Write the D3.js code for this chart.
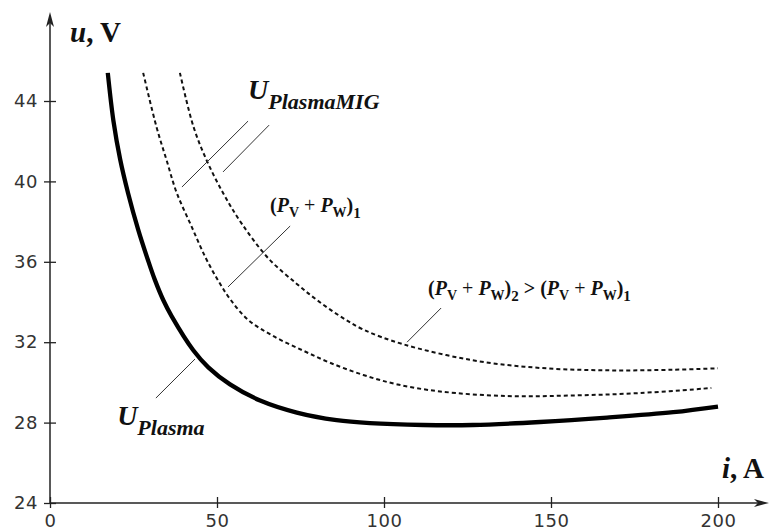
<!DOCTYPE html>
<html>
<head>
<meta charset="utf-8">
<script src="https://cdn.jsdelivr.net/npm/d3@7"></script>
<style>
  html, body { margin: 0; padding: 0; background: #fff; }
  svg { display: block; }
</style>
</head>
<body>
<script>
// ---- data (current i in A, voltage u in V) ----
const xTicks = [0, 50, 100, 150, 200];
const yTicks = [24, 28, 32, 36, 40, 44];

const uPlasma = [
  [17.3, 45.4], [19.0, 43.0], [21.0, 41.1], [23.4, 39.4], [26.4, 37.6], [29.3, 36.1],
  [31.4, 35.1], [33.9, 34.1], [36.4, 33.3], [42.9, 31.6], [47.4, 30.75], [53.9, 29.9],
  [62.9, 29.1], [73.9, 28.5], [85.8, 28.12], [95.8, 27.97], [111.7, 27.88],
  [126.6, 27.88], [146.7, 28.03], [166.8, 28.25], [186.6, 28.52], [200, 28.8]
];
const pw1 = [
  [27.9, 45.4], [31.9, 42.7], [34.9, 41.06], [37.9, 39.45], [42.4, 37.75], [46.6, 36.2],
  [50.4, 35.05], [53.9, 34.15], [59.4, 33.1], [66.9, 32.3], [75.8, 31.58], [83.8, 30.98],
  [93.8, 30.37], [104, 29.9], [116.8, 29.55], [136.8, 29.32], [156.6, 29.35],
  [176.6, 29.47], [198, 29.72]
];
const pw2 = [
  [38.9, 45.4], [42.9, 42.75], [46.9, 41.05], [51.9, 39.4], [57.4, 37.9], [65.5, 36.15],
  [73.9, 34.9], [79.9, 34.1], [86.8, 33.3], [93.8, 32.63], [105.7, 31.9], [126.6, 31.1],
  [146.7, 30.72], [166.8, 30.6], [186.6, 30.63], [200, 30.7]
];

// leader lines [i1,u1,i2,u2]
const leaders = [
  [59.3, 43.0, 39.5, 39.72],
  [65.6, 42.8, 51.8, 40.47],
  [71.9, 37.78, 53.3, 34.75],
  [117.1, 33.7, 106.9, 32.0],
  [43.4, 31.16, 31.7, 29.22]
];

// ---- layout ----
const W = 770, H = 531;
const svg = d3.select("body").append("svg").attr("width", W).attr("height", H);

const x = d3.scaleLinear().domain([0, 200]).range([50, 718]);
const y = d3.scaleLinear().domain([24, 44]).range([503, 101]);
const axisColor = "#222";

// axes
const gx = svg.append("g").attr("transform", `translate(0,${y(24)})`)
  .call(d3.axisBottom(x).tickValues(xTicks).tickSize(6).tickFormat(d3.format("d")));
const gy = svg.append("g").attr("transform", `translate(${x(0)},0)`)
  .call(d3.axisLeft(y).tickValues(yTicks).tickSize(6).tickFormat(d3.format("d")));

[gx, gy].forEach(g => {
  g.select(".domain").remove();
  g.selectAll(".tick line").attr("stroke", axisColor).attr("stroke-width", 1.3);
  g.selectAll(".tick text")
    .attr("fill", "#333")
    .style("font-family", "'DejaVu Sans', sans-serif")
    .style("font-size", "18px")
    .style("letter-spacing", "0.5px");
});
gx.selectAll(".tick line").attr("y1", -6).attr("y2", 5);
gx.selectAll(".tick text").attr("y", 11);
gy.selectAll(".tick line").attr("x1", -6).attr("x2", 6);
gy.selectAll(".tick text").attr("x", -12);

// axis lines with arrows
svg.append("line").attr("x1", x(0)).attr("y1", y(24)).attr("x2", x(0)).attr("y2", 16)
  .attr("stroke", axisColor).attr("stroke-width", 1.5);
svg.append("line").attr("x1", x(0)).attr("y1", y(24)).attr("x2", 764).attr("y2", y(24))
  .attr("stroke", axisColor).attr("stroke-width", 1.5);
svg.append("path")
  .attr("d", `M${x(0)},12 L${x(0) - 4},27 L${x(0)},23 L${x(0) + 4},27 Z`)
  .attr("fill", axisColor);
svg.append("path")
  .attr("d", `M769,${y(24)} L754,${y(24) - 4} L758,${y(24)} L754,${y(24) + 4} Z`)
  .attr("fill", axisColor);

// curves
const line = d3.line().x(d => x(d[0])).y(d => y(d[1])).curve(d3.curveCatmullRom.alpha(0.5));

svg.append("path").datum(pw2).attr("d", line)
  .attr("fill", "none").attr("stroke", "#111").attr("stroke-width", 2)
  .attr("stroke-dasharray", "4,3");
svg.append("path").datum(pw1).attr("d", line)
  .attr("fill", "none").attr("stroke", "#111").attr("stroke-width", 2)
  .attr("stroke-dasharray", "4,3");
svg.append("path").datum(uPlasma).attr("d", line)
  .attr("fill", "none").attr("stroke", "#000").attr("stroke-width", 4.3);

// leader lines
svg.selectAll(".leader").data(leaders).join("line")
  .attr("x1", d => x(d[0])).attr("y1", d => y(d[1]))
  .attr("x2", d => x(d[2])).attr("y2", d => y(d[3]))
  .attr("stroke", "#333").attr("stroke-width", 1);

// text labels
const serif = "'Liberation Serif', 'Times New Roman', serif";

function uLabel(xi, yu, sub) {
  const t = svg.append("text").attr("x", x(xi)).attr("y", y(yu))
    .style("font-family", serif).style("font-weight", "bold").style("font-style", "italic")
    .attr("fill", "#111");
  t.append("tspan").style("font-size", "28px").text("U");
  t.append("tspan").style("font-size", "22px").attr("dy", 10).text(sub);
}
uLabel(59.3, 44.1, "PlasmaMIG");
uLabel(20.1, 27.88, "Plasma");

function pwParts(t, idx) {
  t.append("tspan").style("font-style", "normal").text("(");
  t.append("tspan").style("font-style", "italic").text("P");
  t.append("tspan").style("font-size", "14px").style("font-style", "normal").attr("dy", 5).text("V");
  t.append("tspan").style("font-style", "normal").style("font-weight", "normal").attr("dy", -5).text(" + ");
  t.append("tspan").style("font-style", "italic").text("P");
  t.append("tspan").style("font-size", "14px").style("font-style", "normal").attr("dy", 5).text("W");
  t.append("tspan").style("font-style", "normal").attr("dy", -5).text(")");
  t.append("tspan").style("font-size", "15px").style("font-style", "normal").attr("dy", 6).text(idx);
}
const p1 = svg.append("text").attr("x", x(65.9)).attr("y", y(38.48))
  .style("font-family", serif).style("font-weight", "bold").style("font-size", "20px").attr("fill", "#111");
pwParts(p1, "1");

const p2 = svg.append("text").attr("x", x(113.2)).attr("y", y(34.35))
  .style("font-family", serif).style("font-weight", "bold").style("font-size", "20px").attr("fill", "#111");
pwParts(p2, "2");
p2.append("tspan").style("font-style", "normal").attr("dy", -6).text(" > ");
pwParts(p2, "1");

// axis titles
const yt = svg.append("text").attr("x", 70).attr("y", 42)
  .style("font-family", serif).style("font-weight", "bold").style("font-size", "29px").attr("fill", "#111");
yt.append("tspan").style("font-style", "italic").text("u");
yt.append("tspan").text(", V");

const xt = svg.append("text").attr("x", 722).attr("y", 478)
  .style("font-family", serif).style("font-weight", "bold").style("font-size", "29px").attr("fill", "#111");
xt.append("tspan").style("font-style", "italic").text("i");
xt.append("tspan").text(", A");
</script>
</body>
</html>
